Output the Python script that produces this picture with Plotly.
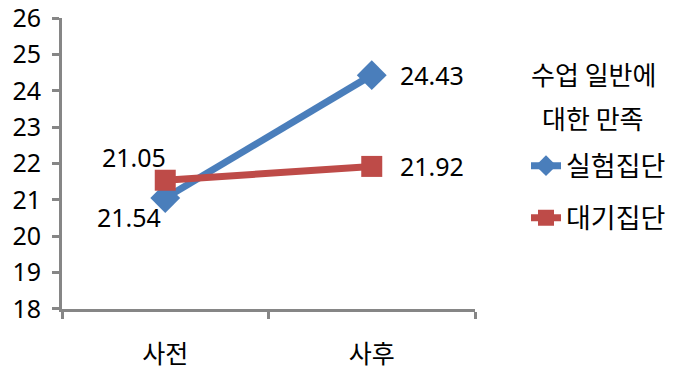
import plotly.graph_objects as go

categories = ["사전", "사후"]
series_names = ["실험집단", "대기집단"]
exp_values = [21.05, 24.43]
wait_values = [21.54, 21.92]
legend_title_lines = ["수업 일반에", "대한 만족"]
y_ticks = [18, 19, 20, 21, 22, 23, 24, 25, 26]

BLUE = "#4A7EBB"
RED = "#BE4B48"
AXIS = "#868686"
FONT = "Noto Sans CJK KR"
NUMFONT = "Noto Sans"

fig = go.Figure()
fig.add_trace(go.Scatter(
    x=categories, y=exp_values, name=series_names[0], mode="lines+markers",
    legendgroup="a",
    line=dict(color=BLUE, width=7),
    marker=dict(symbol="diamond", size=23, color=BLUE),
))
fig.add_trace(go.Scatter(
    x=categories, y=wait_values, name=series_names[1], mode="lines+markers",
    legendgroup="b",
    line=dict(color=RED, width=7),
    marker=dict(symbol="square", size=21, color=RED),
))

# data labels (positions as in the original figure)
label_offsets = {
    (0, 0): (-31, 41),
    (1, 0): (-36, -37),
    (0, 1): (60, 0),
    (1, 1): (60, 0),
}
for si, vals in enumerate([exp_values, wait_values]):
    for ci, v in enumerate(vals):
        dx, dy = label_offsets[(si, ci)]
        fig.add_annotation(
            x=categories[ci], y=v, text=f"{v:.2f}", showarrow=False,
            xshift=dx, yshift=dy,
            font=dict(family=NUMFONT, size=25, color="#000000"),
        )

# legend title
for i, line in enumerate(legend_title_lines):
    fig.add_annotation(
        xref="paper", yref="paper", x=(593 - 62) / 413, y=(309 - 73 - 44 * i) / 292,
        text=line, showarrow=False, xanchor="center", yanchor="middle",
        font=dict(family=FONT, size=26, color="#000000"),
    )

fig.update_layout(
    width=690, height=373,
    margin=dict(l=62, r=215, t=18, b=64, autoexpand=False),
    paper_bgcolor="white", plot_bgcolor="white",
    font=dict(family=FONT, color="#000000"),
    showlegend=True,
    legend=dict(
        x=(526 - 62) / 413, xanchor="left", y=(309 - 141) / 292, yanchor="top",
        font=dict(family=FONT, size=27),
        tracegroupgap=14,
        bgcolor="rgba(0,0,0,0)",
    ),
    xaxis=dict(
        type="category", range=[-0.5, 1.5], automargin=False,
        showline=True, linecolor=AXIS, linewidth=3,
        ticks="outside", tickson="boundaries", ticklen=7, tickwidth=3, tickcolor=AXIS,
        tickfont=dict(family=FONT, size=25),
        ticklabelstandoff=21,
        showgrid=False, zeroline=False,
    ),
    yaxis=dict(
        range=[17.999, 26.001], tickvals=y_ticks, automargin=False,
        ticklabeloverflow="allow",
        showline=True, linecolor=AXIS, linewidth=3,
        ticks="outside", ticklen=7, tickwidth=3, tickcolor=AXIS,
        tickfont=dict(family=NUMFONT, size=25),
        ticklabelstandoff=6,
        showgrid=False, zeroline=False,
    ),
)

fig.write_html("out.html")
